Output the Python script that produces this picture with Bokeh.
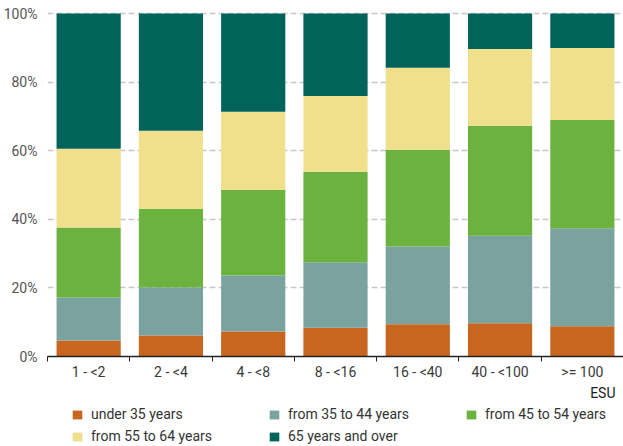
from bokeh.plotting import figure
from bokeh.layouts import column
from bokeh.models import Range1d, FixedTicker, Legend, LegendItem, Title
from bokeh.embed import file_html
from bokeh.resources import INLINE

# farm size classes (ESU) and share of holders by age group, in %
categories = ["1 - <2", "2 - <4", "4 - <8", "8 - <16", "16 - <40", "40 - <100", ">= 100"]
under_35 = [4.7, 6.1, 7.3, 8.4, 9.4, 9.7, 8.8]
from_35_to_44 = [12.5, 14.0, 16.3, 19.1, 22.7, 25.5, 28.6]
from_45_to_54 = [20.4, 23.0, 25.0, 26.4, 28.2, 32.1, 31.6]
from_55_to_64 = [23.0, 22.7, 22.8, 22.1, 23.9, 22.4, 21.0]
over_65 = [39.4, 34.2, 28.6, 24.0, 15.8, 10.3, 10.0]

names = ["under 35 years", "from 35 to 44 years", "from 45 to 54 years",
         "from 55 to 64 years", "65 years and over"]
colors = ["#C8651F", "#7AA39F", "#6BB23E", "#F0E08B", "#02635A"]
y_ticks = [0, 20, 40, 60, 80, 100]

FONT = "Roboto"
SIZE = "14px"

x_pos = [i + 0.5 for i in range(len(categories))]
data = {"x": x_pos, "u35": under_35, "a35": from_35_to_44, "a45": from_45_to_54,
        "a55": from_55_to_64, "o65": over_65}
keys = ["u35", "a35", "a45", "a55", "o65"]

p = figure(width=623, height=400, output_backend="svg", toolbar_location=None,
           x_range=Range1d(0, 7), y_range=Range1d(0, 100.9),
           min_border_left=47, min_border_right=0, min_border_top=10, min_border_bottom=0)
p.outline_line_color = None

bars = p.vbar_stack(keys, x="x", width=0.78, color=colors, line_color=None, source=data)

# x axis: labels at the centres, tick marks between the bars
xa = p.xaxis[0]
xa.ticker = FixedTicker(ticks=x_pos, minor_ticks=list(range(len(categories) + 1)))
xa.major_label_overrides = {x: c for x, c in zip(x_pos, categories)}
xa.major_tick_out = 0
xa.major_tick_in = 0
xa.minor_tick_out = 5
xa.minor_tick_in = 0
xa.minor_tick_line_color = "#222222"
xa.axis_line_color = "#222222"
xa.axis_line_width = 1.5
xa.major_label_standoff = 2
xa.major_label_text_font = FONT
xa.major_label_text_font_size = SIZE
xa.major_label_text_color = "#3a3a3a"

ya = p.yaxis[0]
ya.ticker = FixedTicker(ticks=y_ticks)
ya.major_label_overrides = {t: f"{t}%" for t in y_ticks}
ya.axis_line_color = None
ya.major_tick_line_color = None
ya.minor_tick_line_color = None
ya.major_label_standoff = 4
ya.major_label_text_font = FONT
ya.major_label_text_font_size = SIZE
ya.major_label_text_color = "#555555"

p.xgrid.grid_line_color = None
p.ygrid.ticker = FixedTicker(ticks=y_ticks[1:])
p.ygrid.grid_line_color = "#c8c8c8"
p.ygrid.grid_line_width = 1.3
p.ygrid.grid_line_dash = "6 3"

esu = Title(text="ESU", align="right", offset=8, standoff=0, text_font=FONT,
            text_font_size=SIZE, text_font_style="normal", text_color="#222222")
p.add_layout(esu, "below")

# legend in its own strip under the chart (its frame lines up with the chart's);
# the swatch glyphs use the same data but lie outside this strip's ranges
leg = figure(width=623, height=46, output_backend="svg", toolbar_location=None,
             x_range=Range1d(20, 21), y_range=Range1d(500, 501),
             x_axis_location=None, y_axis_location=None,
             min_border_left=47, min_border_right=0, min_border_top=0, min_border_bottom=0)
leg.outline_line_color = None
leg.grid.grid_line_color = None
swatches = leg.vbar_stack(keys, x="x", width=0.78, color=colors, line_color=None, source=data)

# filled column by column: 3 columns, 2 rows
order = [0, 3, 1, 4, 2]
items = [LegendItem(label=names[i], renderers=[swatches[i]]) for i in order]
legend = Legend(items=items, location=(24, 0), ncols=3,
                glyph_width=12, glyph_height=11, label_standoff=8, label_width=175,
                label_height=20, spacing=2, padding=0, margin=0,
                border_line_color=None, background_fill_alpha=0,
                label_text_font=FONT, label_text_font_size=SIZE,
                label_text_color="#333333")
leg.add_layout(legend)

layout = column(p, leg, spacing=0)
open("out.html", "w").write(file_html(layout, INLINE))
